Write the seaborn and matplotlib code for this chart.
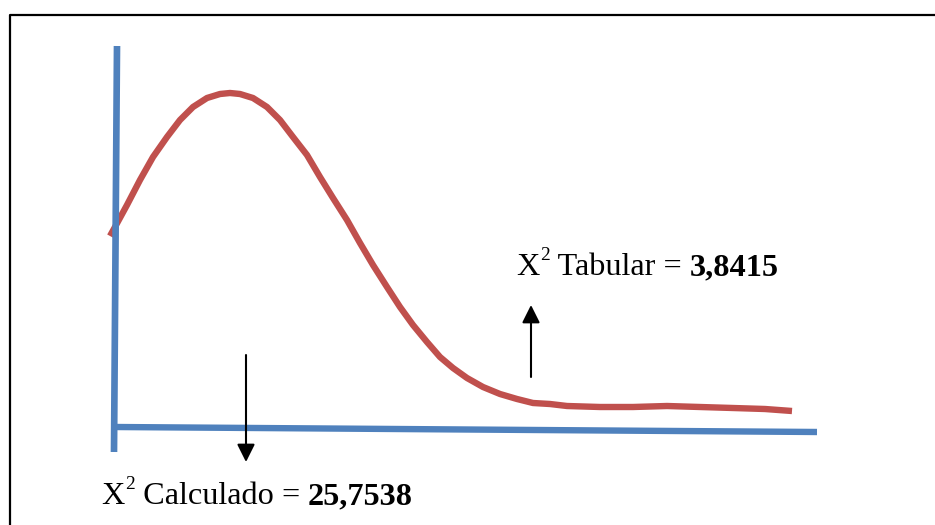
import matplotlib
matplotlib.use("Agg")
import matplotlib.pyplot as plt
import seaborn as sns
import pandas as pd

# ---- data (pixel-space diagram coordinates, y grows downward) ----
curve_x = [110, 115, 127, 140, 153, 167, 180, 193, 207, 220, 230, 240, 253,
           267, 280, 293, 307, 320, 333, 347, 360, 373, 387, 400, 413, 427,
           440, 453, 467, 483, 500, 517, 533, 550, 567, 600, 633, 667, 700,
           733, 765, 792]
curve_y = [236, 227, 205, 180, 157, 137, 120, 107, 98, 94, 93, 94, 98,
           107, 120, 137, 155, 177, 198, 220, 243, 265, 287, 307, 325, 342,
           357, 368, 378, 387, 394, 399, 403, 404, 406, 407, 407, 406, 407,
           408, 409, 411]

yaxis_x = [117, 114]
yaxis_y = [46, 452]
xaxis_x = [115, 817]
xaxis_y = [427, 432]

frame_x = [10, 10, 935]
frame_y = [525, 15, 15]

arrow_down_tail = (246, 355)
arrow_down_tip = (246, 462)
arrow_up_tail = (531, 377)
arrow_up_tip = (531, 305)

label_tab = ("X", "2", " Tabular = ", "3,8415")
label_tab_pos = (516, 275)
label_calc = ("X", "2", " Calculado = ", "25,7538")
label_calc_pos = (101, 504)

RED = "#C0504D"
BLUE = "#4F81BD"
FONT = "Liberation Serif"

sns.set_theme(style="white")
plt.rcParams["font.family"] = [FONT, "DejaVu Serif"]

fig = plt.figure(figsize=(9.35, 5.25), dpi=100)
ax = fig.add_axes([0, 0, 1, 1])
ax.set_xlim(0, 935)
ax.set_ylim(525, 0)
ax.axis("off")

# frame
ax.plot(frame_x, frame_y, color="black", lw=1.6, solid_capstyle="projecting")

# curve
df = pd.DataFrame({"x": curve_x, "y": curve_y})
sns.lineplot(data=df, x="x", y="y", sort=False, ax=ax, color=RED, lw=4.6,
             solid_capstyle="butt", solid_joinstyle="round", zorder=2)

# axes lines
ax.plot(yaxis_x, yaxis_y, color=BLUE, lw=4.8, solid_capstyle="butt", zorder=3)
ax.plot(xaxis_x, xaxis_y, color=BLUE, lw=4.6, solid_capstyle="butt", zorder=3)

# arrows
for tail, tip in [(arrow_down_tail, arrow_down_tip), (arrow_up_tail, arrow_up_tip)]:
    ax.annotate("", xy=tip, xytext=tail,
                arrowprops=dict(arrowstyle="-|>,head_length=0.4,head_width=0.2",
                                mutation_scale=27, lw=1.5, color="black",
                                shrinkA=0, shrinkB=0), zorder=4)

def label(parts, pos, size=23.2):
    x_txt, sup, mid, bold = parts
    t1 = ax.text(pos[0], pos[1], x_txt, fontsize=size, family=FONT,
                 va="baseline", ha="left", color="black")
    t2 = ax.annotate(sup, xy=(1, pos[1]), xycoords=(t1, "data"),
                     xytext=(0.3, 10.8), textcoords="offset points",
                     fontsize=size * 0.6, family=FONT, va="baseline",
                     ha="left", color="black")
    t3 = ax.annotate(mid, xy=(1, pos[1]), xycoords=(t2, "data"),
                     fontsize=size, family=FONT, va="baseline", ha="left",
                     color="black")
    ax.annotate(bold, xy=(1, pos[1]), xycoords=(t3, "data"), fontsize=size,
                family=FONT, fontweight="bold", va="baseline", ha="left",
                color="black")

label(label_tab, label_tab_pos)
label(label_calc, label_calc_pos)

fig.savefig("out.png", dpi=100)
